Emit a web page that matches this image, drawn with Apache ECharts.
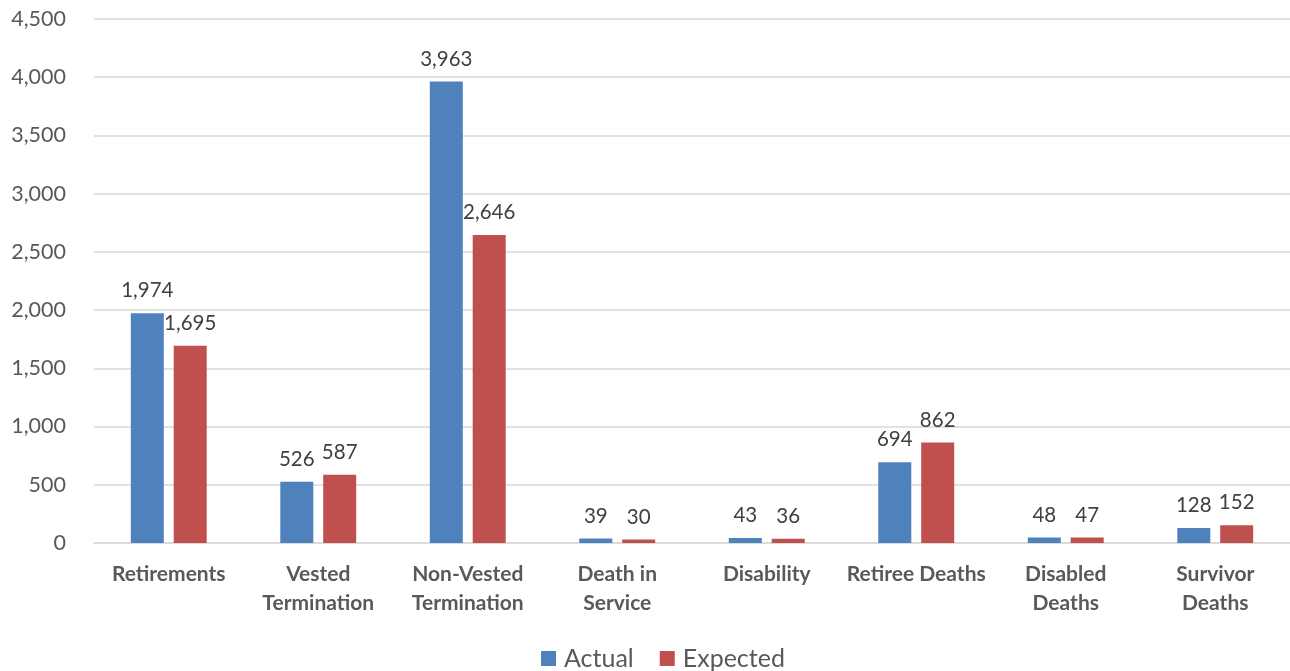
<!DOCTYPE html>
<html>
<head>
<meta charset="utf-8">
<script src="https://cdn.jsdelivr.net/npm/echarts@6/dist/echarts.min.js"></script>
<style>
  html, body { margin: 0; padding: 0; background: #fff; }
  #chart { width: 1290px; height: 671px; }
</style>
</head>
<body>
<div id="chart"></div>
<script>
const categories = [
  'Retirements', 'Vested\nTermination', 'Non-Vested\nTermination', 'Death in\nService',
  'Disability', 'Retiree Deaths', 'Disabled\nDeaths', 'Survivor\nDeaths'
];
const actual = [1974, 526, 3963, 39, 43, 694, 48, 128];
const expected = [1695, 587, 2646, 30, 36, 862, 47, 152];
const seriesNames = ['Actual', 'Expected'];

const FONT = 'Lato, "Open Sans", sans-serif';
const fmt = v => v.toLocaleString('en-US');

const chart = echarts.init(document.getElementById('chart'), null, { renderer: 'canvas' });

const labelStyle = {
  show: true,
  position: 'top',
  distance: 12,
  fontFamily: FONT,
  fontSize: 20.5,
  color: '#404040',
  formatter: p => fmt(p.value)
};

chart.setOption({
  animation: false,
  grid: { left: 94, right: 0, top: 19, bottom: 128, containLabel: false },
  legend: {
    top: 641,
    left: 536,
    itemWidth: 15,
    itemHeight: 15,
    itemGap: 26,
    icon: 'rect',
    textStyle: { fontFamily: FONT, fontSize: 25, color: '#595959', padding: [0, 0, 0, 3] },
    data: seriesNames
  },
  xAxis: {
    type: 'category',
    data: categories,
    axisLine: { show: true, lineStyle: { color: '#d9d9d9', width: 1.5 } },
    axisTick: { show: false },
    axisLabel: {
      interval: 0,
      margin: 17,
      fontFamily: FONT,
      fontSize: 21,
      fontWeight: 'bold',
      lineHeight: 29,
      color: '#595959'
    }
  },
  yAxis: {
    type: 'value',
    min: 0,
    max: 4500,
    interval: 500,
    axisLine: { show: false },
    axisTick: { show: false },
    splitLine: { lineStyle: { color: '#d9d9d9', width: 1.5 } },
    axisLabel: {
      margin: 28,
      fontFamily: FONT,
      fontSize: 21.5,
      color: '#595959',
      formatter: v => fmt(v)
    }
  },
  series: [
    {
      name: seriesNames[0],
      type: 'bar',
      data: actual,
      barWidth: 33,
      barGap: '30%',
      itemStyle: { color: '#4f81bd' },
      label: labelStyle
    },
    {
      name: seriesNames[1],
      type: 'bar',
      data: expected,
      barWidth: 33,
      itemStyle: { color: '#c0504d' },
      label: labelStyle
    }
  ]
});
</script>
</body>
</html>
